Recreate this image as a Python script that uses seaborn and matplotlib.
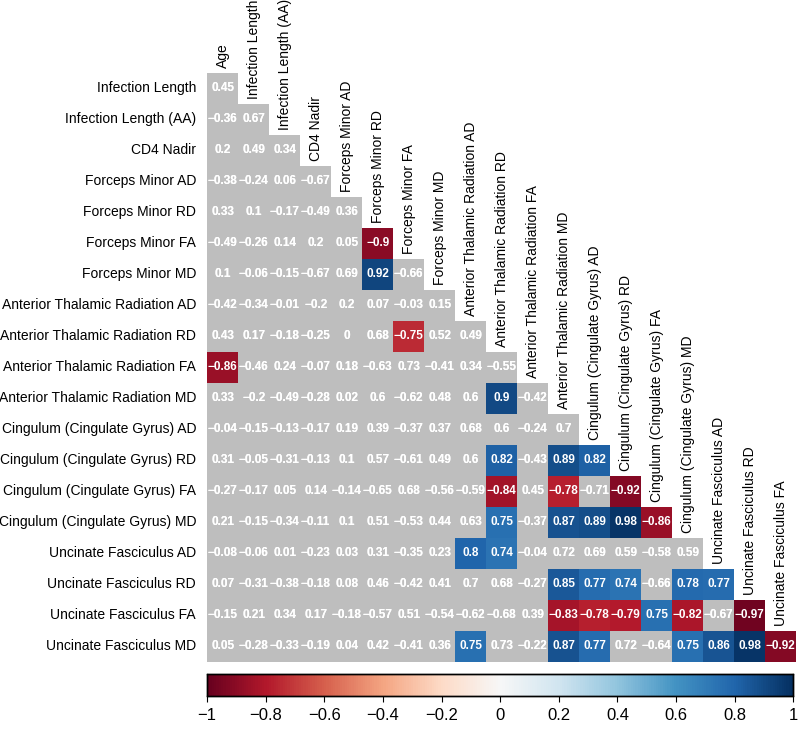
import numpy as np
import pandas as pd
import matplotlib
matplotlib.use("Agg")
import matplotlib.pyplot as plt
import seaborn as sns

variables = ["Age", "Infection Length", "Infection Length (AA)", "CD4 Nadir",
             "Forceps Minor AD", "Forceps Minor RD", "Forceps Minor FA", "Forceps Minor MD",
             "Anterior Thalamic Radiation AD", "Anterior Thalamic Radiation RD",
             "Anterior Thalamic Radiation FA", "Anterior Thalamic Radiation MD",
             "Cingulum (Cingulate Gyrus) AD", "Cingulum (Cingulate Gyrus) RD",
             "Cingulum (Cingulate Gyrus) FA", "Cingulum (Cingulate Gyrus) MD",
             "Uncinate Fasciculus AD", "Uncinate Fasciculus RD",
             "Uncinate Fasciculus FA", "Uncinate Fasciculus MD"]

# lower triangle, one list per row (row variable = variables[i+1])
corr_rows = [
    [0.45],
    [-0.36, 0.67],
    [0.2, 0.49, 0.34],
    [-0.38, -0.24, 0.06, -0.67],
    [0.33, 0.1, -0.17, -0.49, 0.36],
    [-0.49, -0.26, 0.14, 0.2, 0.05, -0.9],
    [0.1, -0.06, -0.15, -0.67, 0.69, 0.92, -0.66],
    [-0.42, -0.34, -0.01, -0.2, 0.2, 0.07, -0.03, 0.15],
    [0.43, 0.17, -0.18, -0.25, 0, 0.68, -0.75, 0.52, 0.49],
    [-0.86, -0.46, 0.24, -0.07, 0.18, -0.63, 0.73, -0.41, 0.34, -0.55],
    [0.33, -0.2, -0.49, -0.28, 0.02, 0.6, -0.62, 0.48, 0.6, 0.9, -0.42],
    [-0.04, -0.15, -0.13, -0.17, 0.19, 0.39, -0.37, 0.37, 0.68, 0.6, -0.24, 0.7],
    [0.31, -0.05, -0.31, -0.13, 0.1, 0.57, -0.61, 0.49, 0.6, 0.82, -0.43, 0.89, 0.82],
    [-0.27, -0.17, 0.05, 0.14, -0.14, -0.65, 0.68, -0.56, -0.59, -0.84, 0.45, -0.78, -0.71, -0.92],
    [0.21, -0.15, -0.34, -0.11, 0.1, 0.51, -0.53, 0.44, 0.63, 0.75, -0.37, 0.87, 0.89, 0.98, -0.86],
    [-0.08, -0.06, 0.01, -0.23, 0.03, 0.31, -0.35, 0.23, 0.8, 0.74, -0.04, 0.72, 0.69, 0.59, -0.58, 0.59],
    [0.07, -0.31, -0.38, -0.18, 0.08, 0.46, -0.42, 0.41, 0.7, 0.68, -0.27, 0.85, 0.77, 0.74, -0.66, 0.78, 0.77],
    [-0.15, 0.21, 0.34, 0.17, -0.18, -0.57, 0.51, -0.54, -0.62, -0.68, 0.39, -0.83, -0.78, -0.79, 0.75, -0.82, -0.67, -0.97],
    [0.05, -0.28, -0.33, -0.19, 0.04, 0.42, -0.41, 0.36, 0.75, 0.73, -0.22, 0.87, 0.77, 0.72, -0.64, 0.75, 0.86, 0.98, -0.92],
]

# significant cells (row index, column index) -> drawn in colour, rest grey
significant = [(5, 5), (6, 5), (8, 6), (9, 0), (10, 9), (12, 9), (12, 11), (12, 12),
               (13, 9), (13, 11), (13, 13), (14, 9), (14, 11), (14, 12), (14, 13), (14, 14),
               (15, 8), (15, 9), (16, 11), (16, 12), (16, 13), (16, 15), (16, 16),
               (17, 11), (17, 12), (17, 13), (17, 14), (17, 15), (17, 17),
               (18, 8), (18, 11), (18, 12), (18, 15), (18, 16), (18, 17), (18, 18)]

row_names = variables[1:]
col_names = variables[:-1]
n = len(row_names)

mat = np.full((n, n), np.nan)
for i, r in enumerate(corr_rows):
    mat[i, :len(r)] = r
df = pd.DataFrame(mat, index=row_names, columns=col_names)

upper = np.isnan(mat)
sig = np.zeros((n, n), dtype=bool)
for i, j in significant:
    sig[i, j] = True


def fmt(v):
    if np.isnan(v):
        return ""
    s = ("%.2f" % v).rstrip("0").rstrip(".")
    if s in ("-0", ""):
        s = "0"
    return s.replace("-", "\u2212")


labels = np.vectorize(fmt)(mat)
cell_txt = {"size": 8.5, "weight": "bold", "color": "white"}

plt.rcParams["font.family"] = ["Liberation Sans", "DejaVu Sans"]
fig = plt.figure(figsize=(8, 7.3), dpi=100)
ax = fig.add_axes([0.259, 0.0932, 0.736, 0.8068])
cax = fig.add_axes([0.259, 0.0466, 0.7325, 0.0301])

sns.heatmap(df, mask=upper, cmap="RdBu", vmin=-1, vmax=1, ax=ax,
            cbar_ax=cax, cbar_kws={"orientation": "horizontal"},
            annot=labels, fmt="", annot_kws=cell_txt)
grey = np.where(upper | sig, np.nan, 0.0)
sns.heatmap(pd.DataFrame(grey, index=row_names, columns=col_names), mask=upper | sig,
            cmap=matplotlib.colors.ListedColormap(["#bebebe"]), cbar=False, ax=ax,
            annot=labels, fmt="", annot_kws=cell_txt)

ax.set_xticks([])
ax.set_xlabel("")
ax.set_ylabel("")
ax.tick_params(axis="y", length=0, labelsize=10, pad=8)
ax.set_yticklabels(row_names, rotation=0)
for j, name in enumerate(col_names):
    ax.text(j + 0.5, j - 0.15, name, rotation=90, ha="center", va="bottom",
            fontsize=10, clip_on=False)

ticks = np.round(np.arange(-1, 1.01, 0.2), 1)
cax.set_xticks(ticks)
cax.set_xticklabels([fmt(t) for t in ticks])
cax.tick_params(axis="x", labelsize=12, length=4.5, direction="out", pad=4)
for sp in cax.spines.values():
    sp.set_visible(True)
    sp.set_color("black")
    sp.set_linewidth(1.0)

fig.savefig("out.png", dpi=100)
